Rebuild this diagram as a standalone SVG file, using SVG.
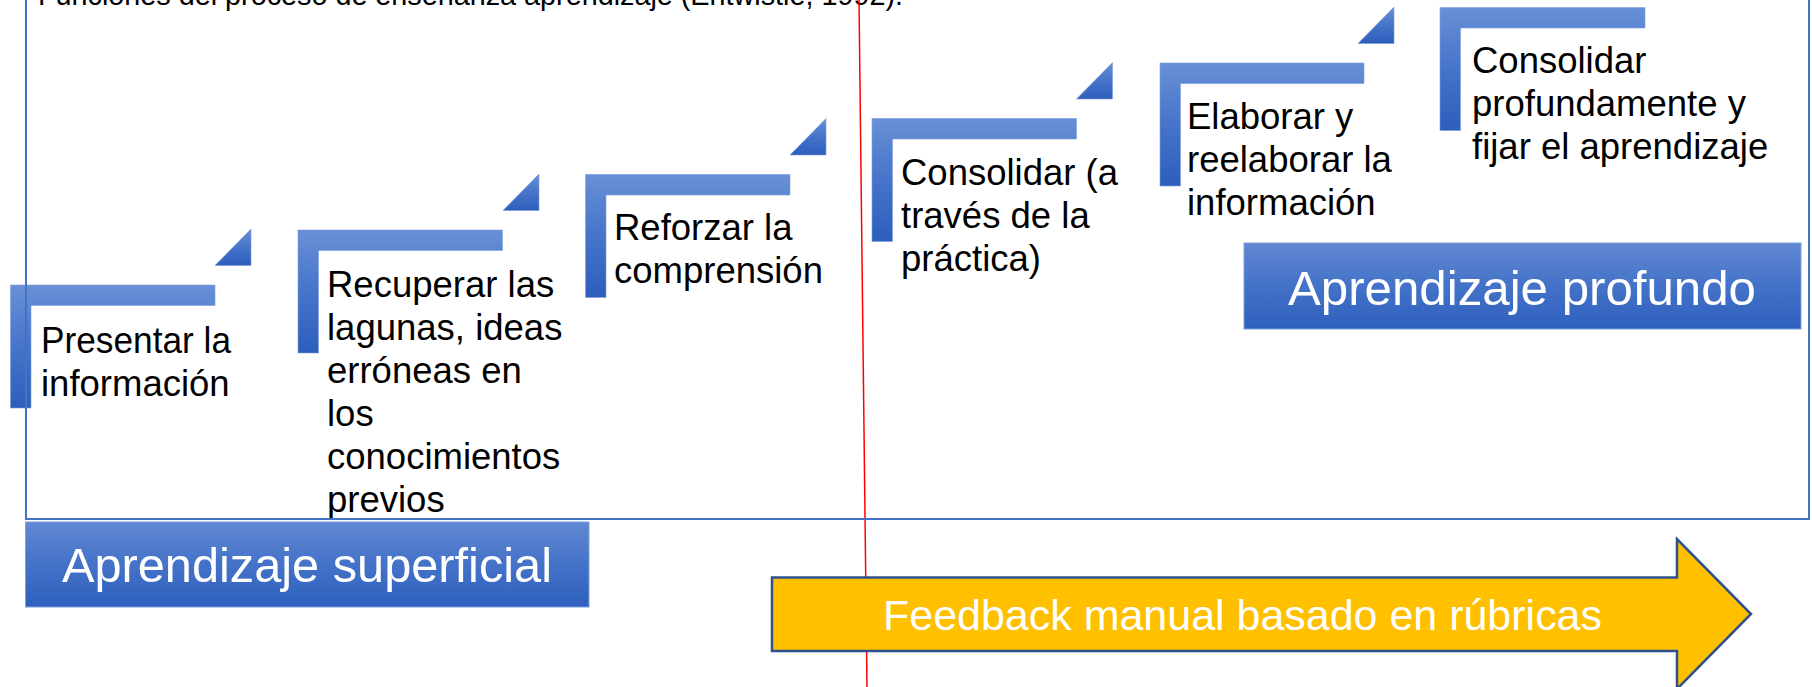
<svg xmlns="http://www.w3.org/2000/svg" width="1812" height="687" viewBox="0 0 1812 687">
  <defs>
    <linearGradient id="gBlue" x1="0" y1="0" x2="0" y2="1">
      <stop offset="0" stop-color="#6890D6"/>
      <stop offset="0.5" stop-color="#4674CA"/>
      <stop offset="1" stop-color="#2D5EBC"/>
    </linearGradient>
    <linearGradient id="gBox" x1="0" y1="0" x2="0" y2="1">
      <stop offset="0" stop-color="#6189D2"/>
      <stop offset="0.5" stop-color="#4472C8"/>
      <stop offset="1" stop-color="#2E60BD"/>
    </linearGradient>
  </defs>
  <style>
    .step { fill: url(#gBlue); stroke: #7C9DDA; stroke-width: 0.6; }
    .tri { fill: url(#gBlue); stroke: #7C9DDA; stroke-width: 0.6; }
    .lbl { font-family: "Liberation Sans", Arial, sans-serif; font-size: 36.5px; fill: #000000; }
    .box { fill: url(#gBox); stroke: #7EA0DC; stroke-width: 1; }
    .boxtxt { font-family: "Liberation Sans", Arial, sans-serif; font-size: 48px; fill: #FFFFFF; }
    .title { font-family: "Liberation Sans", Arial, sans-serif; font-size: 29px; fill: #000000; }
    .frame { fill: none; stroke: #4472C4; stroke-width: 2; }
    .redline { stroke: #FF0000; stroke-width: 1.5; }
    .arrow { fill: #FFC000; stroke: #2F528F; stroke-width: 2.5; }
    .arrowtxt { font-family: "Liberation Sans", Arial, sans-serif; font-size: 43px; fill: #FFFFFF; }
  </style>
  <rect width="1812" height="687" fill="#FFFFFF"/>

  <g id="title">
    <text class="title" x="38" y="5" textLength="865" lengthAdjust="spacingAndGlyphs">Funciones del proceso de enseñanza aprendizaje (Entwistle, 1992).</text>
  </g>

  <g id="guide-line">
    <line class="redline" x1="859" y1="0" x2="867" y2="687"/>
  </g>

  <g id="connectors"></g>

  <g id="step1">
    <path class="step" d="M10.5,285 H215 V305.5 H31 V408 H10.5 Z"/>
    <path class="tri" d="M251,229 V265.5 H215 Z"/>
    <text class="lbl" x="41" y="353" textLength="190" lengthAdjust="spacingAndGlyphs">Presentar la</text>
    <text class="lbl" x="41" y="396">información</text>
  </g>

  <g id="step2">
    <path class="step" d="M298,230 H502.5 V250.5 H318.5 V353 H298 Z"/>
    <path class="tri" d="M539,174 V210.5 H503 Z"/>
    <text class="lbl" x="327" y="297">Recuperar las</text>
    <text class="lbl" x="327" y="340">lagunas, ideas</text>
    <text class="lbl" x="327" y="383">erróneas en</text>
    <text class="lbl" x="327" y="426">los</text>
    <text class="lbl" x="327" y="469">conocimientos</text>
    <text class="lbl" x="327" y="512">previos</text>
  </g>

  <g id="step3">
    <path class="step" d="M585.5,174.5 H790 V195 H606 V297.5 H585.5 Z"/>
    <path class="tri" d="M826,118.5 V155 H790 Z"/>
    <text class="lbl" x="614" y="240">Reforzar la</text>
    <text class="lbl" x="614" y="283">comprensión</text>
  </g>

  <g id="step4">
    <path class="step" d="M872,118.5 H1076.5 V139 H892.5 V241.5 H872 Z"/>
    <path class="tri" d="M1112.5,62.5 V99 H1076.5 Z"/>
    <text class="lbl" x="901" y="185">Consolidar (a</text>
    <text class="lbl" x="901" y="228">través de la</text>
    <text class="lbl" x="901" y="271">práctica)</text>
  </g>

  <g id="step5">
    <path class="step" d="M1160,63 H1364 V83.5 H1180.5 V186 H1160 Z"/>
    <path class="tri" d="M1394,7 V43.5 H1358 Z"/>
    <text class="lbl" x="1187" y="129">Elaborar y</text>
    <text class="lbl" x="1187" y="172">reelaborar la</text>
    <text class="lbl" x="1187" y="215">información</text>
  </g>

  <g id="step6">
    <path class="step" d="M1440,7.5 H1645 V28 H1460.5 V130.5 H1440 Z"/>
    <text class="lbl" x="1472" y="73">Consolidar</text>
    <text class="lbl" x="1472" y="116">profundamente y</text>
    <text class="lbl" x="1472" y="159">fijar el aprendizaje</text>
  </g>

  <g id="frame">
    <rect class="frame" x="26" y="-20" width="1783" height="539"/>
  </g>

  <g id="label-profundo">
    <rect class="box" x="1244" y="243" width="557" height="86"/>
    <text class="boxtxt" x="1288" y="305" textLength="468" lengthAdjust="spacingAndGlyphs">Aprendizaje profundo</text>
  </g>

  <g id="label-superficial">
    <rect class="box" x="25.5" y="522" width="563.5" height="85"/>
    <text class="boxtxt" x="62" y="582" textLength="490" lengthAdjust="spacingAndGlyphs">Aprendizaje superficial</text>
  </g>

  <g id="feedback-arrow">
    <path class="arrow" d="M772,577.5 H1677 V539 L1751,614 L1677,689 V651 H772 Z"/>
    <text class="arrowtxt" x="883" y="630" textLength="719" lengthAdjust="spacingAndGlyphs">Feedback manual basado en rúbricas</text>
  </g>
</svg>
